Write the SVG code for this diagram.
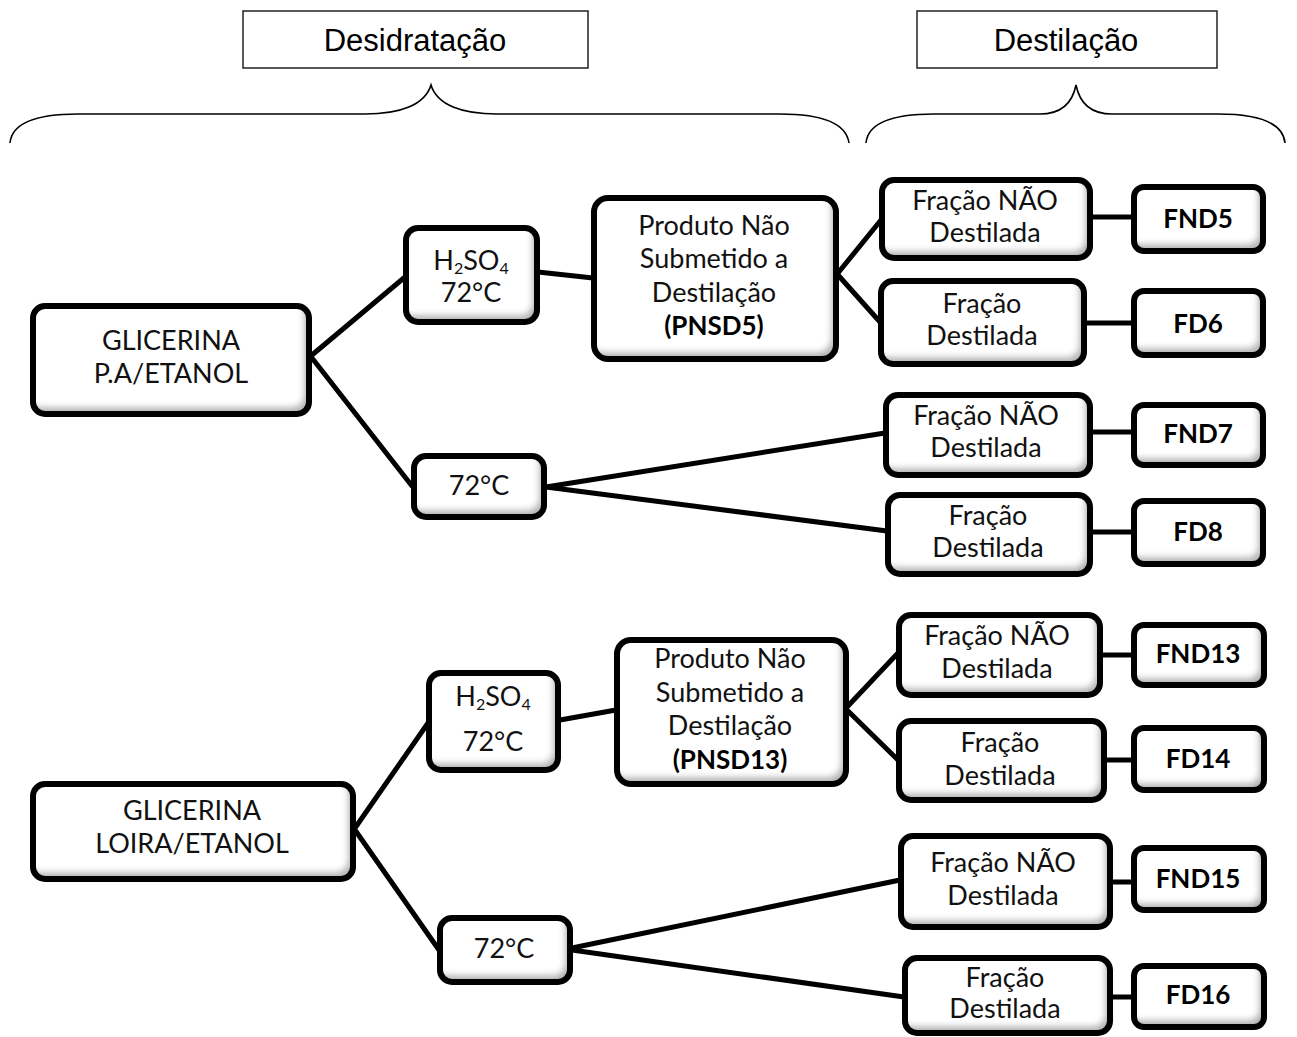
<svg xmlns="http://www.w3.org/2000/svg" width="1297" height="1037" viewBox="0 0 1297 1037">
<style>
.hdr{fill:#fff;stroke:#222;stroke-width:1.5}
.ht{font-family:"Liberation Sans",Arial,sans-serif;font-size:31px;fill:#000;text-anchor:middle}
.brace{fill:none;stroke:#000;stroke-width:1.6}
.f{fill:#fff;filter:url(#ins)}
.o{fill:none;stroke:#000;stroke-width:6}
.t{font-family:Lato,"Open Sans",sans-serif;font-size:27px;fill:#111;text-anchor:middle}
.b{font-family:Lato,"Open Sans",sans-serif;font-size:26px;font-weight:bold;fill:#000;text-anchor:middle}
.sub{font-size:16px}
#connectors line{stroke:#000;stroke-width:5;stroke-linecap:round}
</style>
<defs>
<filter id="ins" x="-10%" y="-10%" width="120%" height="120%">
<feOffset in="SourceAlpha" dx="-5" dy="-7" result="o"/>
<feGaussianBlur in="o" stdDeviation="3" result="bl"/>
<feComposite in="SourceAlpha" in2="bl" operator="out" result="edge"/>
<feFlood flood-color="#000" flood-opacity="0.55"/>
<feComposite in2="edge" operator="in" result="sh"/>
<feMerge><feMergeNode in="SourceGraphic"/><feMergeNode in="sh"/></feMerge>
</filter>
</defs>
<rect width="1297" height="1037" fill="#fff"/>

<g id="hdr-desidratacao">
<rect class="hdr" x="243" y="11" width="345" height="57"/>
<text class="ht" x="415" y="51">Desidratação</text>
</g>
<g id="hdr-destilacao">
<rect class="hdr" x="917" y="11" width="300" height="57"/>
<text class="ht" x="1066" y="51">Destilação</text>
</g>
<g id="braces">
<path class="brace" d="M10,143 C12,122 40,114 78,114 L365,114 C400,114 425,105 431,85 C437,105 462,114 497,114 L780,114 C818,114 846,122 849,143"/>
<path class="brace" d="M866,143 C868,122 896,114 934,114 L1040,114 C1060,114 1072,105 1076,85 C1080,105 1092,114 1112,114 L1218,114 C1256,114 1283,122 1285,143"/>
</g>

<g id="connectors">
<line x1="312" y1="355" x2="405" y2="277"/>
<line x1="312" y1="358" x2="412" y2="486"/>
<line x1="538" y1="272" x2="593" y2="278"/>
<line x1="838" y1="273" x2="881" y2="220"/>
<line x1="838" y1="275" x2="880" y2="322"/>
<line x1="546" y1="487" x2="885" y2="433"/>
<line x1="546" y1="487" x2="887" y2="531"/>
<line x1="1092" y1="217" x2="1133" y2="217"/>
<line x1="1086" y1="323" x2="1133" y2="323"/>
<line x1="1092" y1="432" x2="1133" y2="432"/>
<line x1="1092" y1="532" x2="1133" y2="532"/>
<line x1="355" y1="828" x2="428" y2="723"/>
<line x1="355" y1="830" x2="439" y2="950"/>
<line x1="560" y1="720" x2="616" y2="710"/>
<line x1="847" y1="707" x2="898" y2="653"/>
<line x1="847" y1="710" x2="898" y2="760"/>
<line x1="572" y1="948" x2="900" y2="880"/>
<line x1="572" y1="950" x2="904" y2="997"/>
<line x1="1100" y1="655" x2="1133" y2="655"/>
<line x1="1105" y1="760" x2="1133" y2="760"/>
<line x1="1110" y1="882" x2="1133" y2="882"/>
<line x1="1111" y1="997" x2="1133" y2="997"/>
</g>

<g id="glicerina-pa">
<rect class="f" x="33" y="306" width="276" height="108" rx="12"/>
<rect class="o" x="33" y="306" width="276" height="108" rx="12"/>
<text class="t" x="171" y="350">GLICERINA</text>
<text class="t" x="171" y="383">P.A/ETANOL</text>
</g>
<g id="h2so4-a">
<rect class="f" x="406" y="228" width="131" height="94" rx="12"/>
<rect class="o" x="406" y="228" width="131" height="94" rx="12"/>
<text class="t" x="471" y="270">H<tspan class="sub" dy="4">2</tspan><tspan dy="-4">SO</tspan><tspan class="sub" dy="4">4</tspan></text>
<text class="t" x="471" y="302">72°C</text>
</g>
<g id="temp-a">
<rect class="f" x="414" y="456" width="130" height="61" rx="12"/>
<rect class="o" x="414" y="456" width="130" height="61" rx="12"/>
<text class="t" x="479" y="495">72°C</text>
</g>
<g id="pnsd5">
<rect class="f" x="594" y="198" width="242" height="161" rx="14"/>
<rect class="o" x="594" y="198" width="242" height="161" rx="14"/>
<text class="t" x="714" y="235">Produto Não</text>
<text class="t" x="714" y="268">Submetido a</text>
<text class="t" x="714" y="302">Destilação</text>
<text class="b" x="714" y="335">(PNSD5)</text>
</g>
<g id="fnd-a">
<rect class="f" x="882" y="180" width="208" height="78" rx="12"/>
<rect class="o" x="882" y="180" width="208" height="78" rx="12"/>
<text class="t" x="985" y="210">Fração NÃO</text>
<text class="t" x="985" y="242">Destilada</text>
</g>
<g id="fnd5">
<rect class="f" x="1134" y="187" width="129" height="64" rx="10"/>
<rect class="o" x="1134" y="187" width="129" height="64" rx="10"/>
<text class="b" x="1198" y="228">FND5</text>
</g>
<g id="fd-a">
<rect class="f" x="881" y="281" width="203" height="83" rx="12"/>
<rect class="o" x="881" y="281" width="203" height="83" rx="12"/>
<text class="t" x="982" y="313">Fração</text>
<text class="t" x="982" y="345">Destilada</text>
</g>
<g id="fd6">
<rect class="f" x="1134" y="291" width="129" height="64" rx="10"/>
<rect class="o" x="1134" y="291" width="129" height="64" rx="10"/>
<text class="b" x="1198" y="333">FD6</text>
</g>
<g id="fnd-b">
<rect class="f" x="886" y="395" width="204" height="80" rx="12"/>
<rect class="o" x="886" y="395" width="204" height="80" rx="12"/>
<text class="t" x="986" y="425">Fração NÃO</text>
<text class="t" x="986" y="457">Destilada</text>
</g>
<g id="fnd7">
<rect class="f" x="1134" y="405" width="129" height="60" rx="10"/>
<rect class="o" x="1134" y="405" width="129" height="60" rx="10"/>
<text class="b" x="1198" y="443">FND7</text>
</g>
<g id="fd-b">
<rect class="f" x="888" y="495" width="202" height="79" rx="12"/>
<rect class="o" x="888" y="495" width="202" height="79" rx="12"/>
<text class="t" x="988" y="525">Fração</text>
<text class="t" x="988" y="557">Destilada</text>
</g>
<g id="fd8">
<rect class="f" x="1134" y="501" width="129" height="63" rx="10"/>
<rect class="o" x="1134" y="501" width="129" height="63" rx="10"/>
<text class="b" x="1198" y="541">FD8</text>
</g>

<g id="glicerina-loira">
<rect class="f" x="33" y="784" width="320" height="95" rx="12"/>
<rect class="o" x="33" y="784" width="320" height="95" rx="12"/>
<text class="t" x="192" y="820">GLICERINA</text>
<text class="t" x="192" y="853">LOIRA/ETANOL</text>
</g>
<g id="h2so4-b">
<rect class="f" x="429" y="673" width="129" height="97" rx="12"/>
<rect class="o" x="429" y="673" width="129" height="97" rx="12"/>
<text class="t" x="493" y="706">H<tspan class="sub" dy="4">2</tspan><tspan dy="-4">SO</tspan><tspan class="sub" dy="4">4</tspan></text>
<text class="t" x="493" y="751">72°C</text>
</g>
<g id="temp-b">
<rect class="f" x="440" y="918" width="130" height="64" rx="12"/>
<rect class="o" x="440" y="918" width="130" height="64" rx="12"/>
<text class="t" x="504" y="958">72°C</text>
</g>
<g id="pnsd13">
<rect class="f" x="617" y="640" width="229" height="144" rx="14"/>
<rect class="o" x="617" y="640" width="229" height="144" rx="14"/>
<text class="t" x="730" y="668">Produto Não</text>
<text class="t" x="730" y="702">Submetido a</text>
<text class="t" x="730" y="735">Destilação</text>
<text class="b" x="730" y="769">(PNSD13)</text>
</g>
<g id="fnd-c">
<rect class="f" x="899" y="615" width="201" height="80" rx="12"/>
<rect class="o" x="899" y="615" width="201" height="80" rx="12"/>
<text class="t" x="997" y="645">Fração NÃO</text>
<text class="t" x="997" y="678">Destilada</text>
</g>
<g id="fnd13">
<rect class="f" x="1134" y="625" width="130" height="60" rx="10"/>
<rect class="o" x="1134" y="625" width="130" height="60" rx="10"/>
<text class="b" x="1198" y="663">FND13</text>
</g>
<g id="fd-c">
<rect class="f" x="899" y="721" width="205" height="79" rx="12"/>
<rect class="o" x="899" y="721" width="205" height="79" rx="12"/>
<text class="t" x="1000" y="752">Fração</text>
<text class="t" x="1000" y="785">Destilada</text>
</g>
<g id="fd14">
<rect class="f" x="1134" y="728" width="130" height="62" rx="10"/>
<rect class="o" x="1134" y="728" width="130" height="62" rx="10"/>
<text class="b" x="1198" y="768">FD14</text>
</g>
<g id="fnd-d">
<rect class="f" x="901" y="836" width="209" height="91" rx="12"/>
<rect class="o" x="901" y="836" width="209" height="91" rx="12"/>
<text class="t" x="1003" y="872">Fração NÃO</text>
<text class="t" x="1003" y="905">Destilada</text>
</g>
<g id="fnd15">
<rect class="f" x="1134" y="848" width="130" height="62" rx="10"/>
<rect class="o" x="1134" y="848" width="130" height="62" rx="10"/>
<text class="b" x="1198" y="888">FND15</text>
</g>
<g id="fd-d">
<rect class="f" x="905" y="958" width="205" height="75" rx="12"/>
<rect class="o" x="905" y="958" width="205" height="75" rx="12"/>
<text class="t" x="1005" y="987">Fração</text>
<text class="t" x="1005" y="1018">Destilada</text>
</g>
<g id="fd16">
<rect class="f" x="1134" y="966" width="130" height="61" rx="10"/>
<rect class="o" x="1134" y="966" width="130" height="61" rx="10"/>
<text class="b" x="1198" y="1004">FD16</text>
</g>
</svg>
